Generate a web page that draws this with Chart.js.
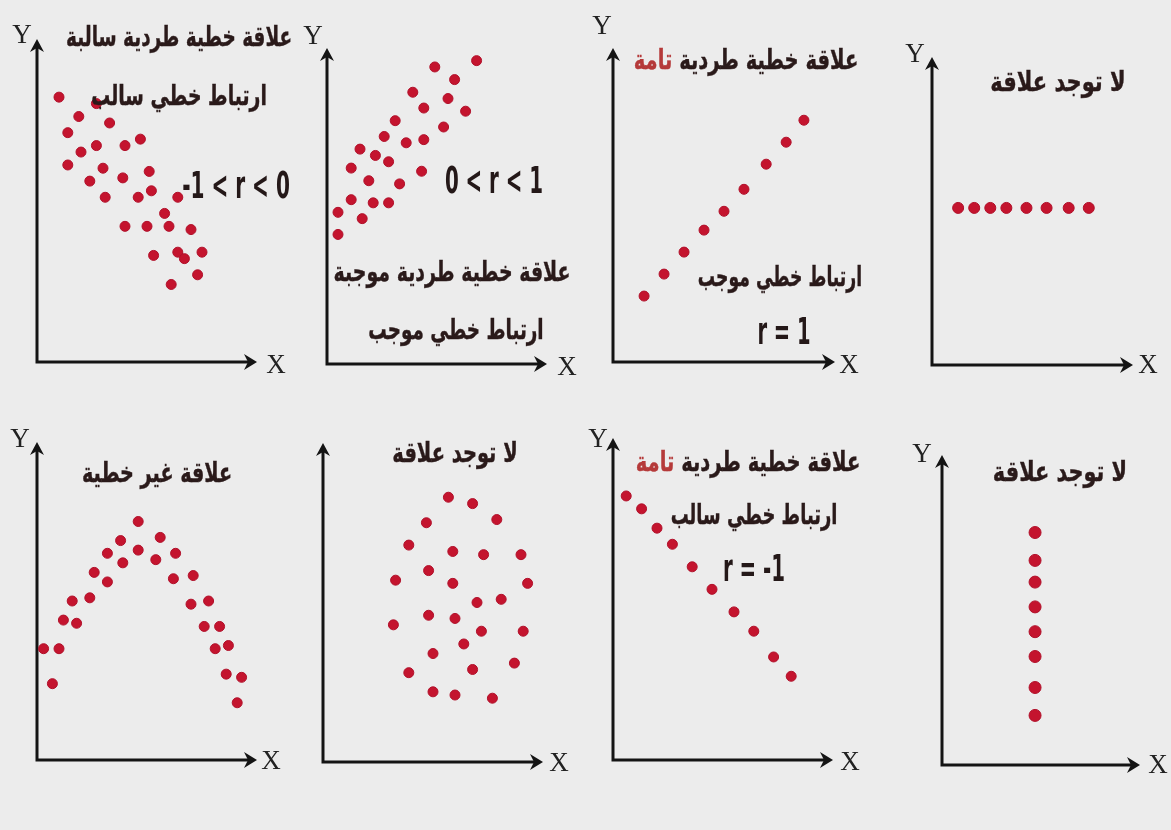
<!DOCTYPE html>
<html>
<head>
  <title>أنواع العلاقات والارتباط</title>
  <script src="https://cdn.jsdelivr.net/npm/chart.js"></script>
  <style>
    html, body {
      margin: 0;
      padding: 0;
      width: 1171px;
      height: 830px;
      overflow: hidden;
      background: #ececec;
    }
    canvas {
      position: absolute;
    }
    .lbl {
      position: absolute;
      white-space: nowrap;
      line-height: 1;
      transform-origin: center center;
    }
    .ar {
      font-family: 'DejaVu Sans Condensed', 'DejaVu Sans', sans-serif;
      font-weight: bold;
      font-size: 28px;
      color: #2a1a1a;
      direction: rtl;
      -webkit-text-stroke: 0.4px #2a1a1a;
    }
    .red { color: #b53a3a; -webkit-text-stroke: 0.4px #b53a3a; }
    .rr {
      font-family: 'Liberation Sans Narrow', 'DejaVu Sans Condensed', sans-serif;
      font-weight: bold;
      font-size: 38px;
      color: #241818;
      direction: ltr;
    }
    .xy {
      font-family: 'Liberation Serif', 'DejaVu Serif', serif;
      font-size: 27px;
      color: #222;
    }
  </style>
</head>
<body>

  <script>
    // قيم النقاط لكل شكل (0 - 100 على كل محور)
    var negX = [10, 27, 19, 33, 14, 47, 20, 27, 40, 14, 30, 51, 24, 39, 31, 46, 52, 64, 58, 40, 50, 60, 70, 53, 64, 67, 75, 73, 61];
    var negY = [82, 80, 76, 74, 71, 69, 65, 67, 67, 61, 60, 59, 56, 57, 51, 51, 53, 51, 46, 42, 42, 42, 41, 33, 34, 32, 34, 27, 24];

    var posX = [49, 68, 58, 39, 55, 44, 63, 31, 53, 26, 36, 44, 15, 22, 28, 11, 43, 19, 33, 11, 21, 28, 5, 16, 5];
    var posY = [94, 96, 90, 86, 84, 81, 80, 77, 75, 72, 70, 71, 68, 66, 64, 62, 61, 58, 57, 52, 51, 51, 48, 46, 41];

    var perfPosX = [14, 23, 32, 41, 50, 59, 69, 78, 86];
    var perfPosY = [21, 28, 35, 42, 48, 55, 63, 70, 77];

    var horizX = [13, 21, 29, 37, 47, 57, 68, 78];
    var horizY = [51, 51, 51, 51, 51, 51, 51, 51];

    var curveX = [46, 38, 56, 46, 32, 63, 39, 54, 26, 32, 62, 71, 16, 24, 70, 78, 12, 18, 76, 83, 3, 10, 81, 87, 7, 86, 93, 91];
    var curveY = [75, 69, 70, 66, 65, 65, 62, 63, 59, 56, 57, 58, 50, 51, 49, 50, 44, 43, 42, 42, 35, 35, 35, 36, 24, 27, 26, 18];

    var cloudX = [57, 68, 47, 79, 39, 59, 73, 90, 48, 33, 59, 93, 70, 81, 32, 48, 60, 72, 91, 64, 50, 87, 39, 68, 50, 60, 77];
    var cloudY = [83, 81, 75, 76, 68, 66, 65, 65, 60, 57, 56, 56, 50, 51, 43, 46, 45, 41, 41, 37, 34, 31, 28, 29, 22, 21, 20];

    var perfNegX = [6, 13, 20, 27, 36, 45, 55, 64, 73, 81];
    var perfNegY = [82, 78, 72, 67, 60, 53, 46, 40, 32, 26];

    var vertX = [47, 47, 47, 47, 47, 47, 47, 47];
    var vertY = [75, 66, 59, 51, 43, 35, 25, 16];

    // النصوص
    var titulos = {
      negTitle: 'علاقة خطية طردية سالبة',
      negSub: 'ارتباط خطي سالب',
      negR: '-1 < r < 0',
      posTitle: 'علاقة خطية طردية موجبة',
      posSub: 'ارتباط خطي موجب',
      posR: '0 < r < 1',
      perfTitle: 'علاقة خطية طردية',
      perfWord: 'تامة',
      perfPosSub: 'ارتباط خطي موجب',
      perfPosR: 'r = 1',
      none: 'لا توجد علاقة',
      curve: 'علاقة غير خطية',
      perfNegSub: 'ارتباط خطي سالب',
      perfNegR: 'r = -1'
    };

    // موضع كل شكل في الصفحة: الأصل (ox, oy)، رأس المحور Y (ty)، رأس المحور X (rx)
    var paneles = [
      { xs: negX, ys: negY, ox: 37, oy: 362, ty: 39, rx: 257, r: 5, yLbl: [22, 34], xLbl: [276, 364] },
      { xs: posX, ys: posY, ox: 327, oy: 364, ty: 48, rx: 547, r: 5, yLbl: [313, 35], xLbl: [567, 366] },
      { xs: perfPosX, ys: perfPosY, ox: 613, oy: 362, ty: 48, rx: 835, r: 5, yLbl: [602, 25], xLbl: [849, 364] },
      { xs: horizX, ys: horizY, ox: 932, oy: 365, ty: 57, rx: 1133, r: 5.5, yLbl: [915, 53], xLbl: [1148, 364] },
      { xs: curveX, ys: curveY, ox: 37, oy: 760, ty: 442, rx: 257, r: 5, yLbl: [20, 438], xLbl: [271, 760] },
      { xs: cloudX, ys: cloudY, ox: 323, oy: 762, ty: 443, rx: 543, r: 5, yLbl: null, xLbl: [559, 762] },
      { xs: perfNegX, ys: perfNegY, ox: 613, oy: 760, ty: 438, rx: 833, r: 5, yLbl: [598, 438], xLbl: [850, 761] },
      { xs: vertX, ys: vertY, ox: 942, oy: 765, ty: 455, rx: 1140, r: 6, yLbl: [922, 453], xLbl: [1158, 764] }
    ];

    // مكان كل نص: [المركز x، المركز y، العرض]
    var textos = [
      { html: titulos.negTitle, cls: 'ar', at: [179, 37, 226] },
      { html: titulos.negSub, cls: 'ar', at: [179, 96, 176] },
      { html: titulos.negR, cls: 'rr', at: [236, 185, 108] },
      { html: titulos.posR, cls: 'rr', at: [494, 180, 98] },
      { html: titulos.posTitle, cls: 'ar', at: [452, 272, 237] },
      { html: titulos.posSub, cls: 'ar', at: [456, 330, 175] },
      { html: titulos.perfTitle + ' <span class="red">' + titulos.perfWord + '</span>', cls: 'ar', at: [746, 60, 225] },
      { html: titulos.perfPosSub, cls: 'ar', at: [780, 277, 164] },
      { html: titulos.perfPosR, cls: 'rr', at: [784, 331, 53] },
      { html: titulos.none, cls: 'ar', at: [1058, 82, 135] },
      { html: titulos.curve, cls: 'ar', at: [157, 473, 150] },
      { html: titulos.none, cls: 'ar', at: [455, 453, 125] },
      { html: titulos.perfTitle + ' <span class="red">' + titulos.perfWord + '</span>', cls: 'ar', at: [748, 462, 225] },
      { html: titulos.perfNegSub, cls: 'ar', at: [754, 515, 167] },
      { html: titulos.perfNegR, cls: 'rr', at: [754, 568, 62] },
      { html: titulos.none, cls: 'ar', at: [1060, 472, 134] }
    ];

    var PAD = 18;

    // ejes con flecha, dibujados sobre el área del gráfico
    var flechas = {
      id: 'flechas',
      beforeDatasetsDraw: function (chart) {
        var c = chart.ctx, a = chart.chartArea;
        c.save();
        c.strokeStyle = '#141414';
        c.fillStyle = '#141414';
        c.lineWidth = 3;
        c.beginPath();
        c.moveTo(a.left, a.top + 4);
        c.lineTo(a.left, a.bottom);
        c.lineTo(a.right - 4, a.bottom);
        c.stroke();
        // punta derecha
        c.beginPath();
        c.moveTo(a.right, a.bottom);
        c.lineTo(a.right - 13, a.bottom - 8);
        c.lineTo(a.right - 9, a.bottom);
        c.lineTo(a.right - 13, a.bottom + 8);
        c.closePath();
        c.fill();
        // punta superior
        c.beginPath();
        c.moveTo(a.left, a.top);
        c.lineTo(a.left - 7, a.top + 13);
        c.lineTo(a.left, a.top + 9);
        c.lineTo(a.left + 7, a.top + 13);
        c.closePath();
        c.fill();
        c.restore();
      }
    };

    function ponerTexto(txt, cls, x, y, w) {
      var d = document.createElement('div');
      d.className = 'lbl ' + cls;
      d.innerHTML = txt;
      document.body.appendChild(d);
      d.style.left = x + 'px';
      d.style.top = y + 'px';
      var s = w ? w / d.offsetWidth : 1;
      d.style.transform = 'translate(-50%, -50%) scaleX(' + s + ')';
    }

    paneles.forEach(function (p) {
      var cv = document.createElement('canvas');
      var w = p.rx - p.ox + 2 * PAD, h = p.oy - p.ty + 2 * PAD;
      cv.width = w;
      cv.height = h;
      cv.style.left = (p.ox - PAD) + 'px';
      cv.style.top = (p.ty - PAD) + 'px';
      cv.style.width = w + 'px';
      cv.style.height = h + 'px';
      document.body.appendChild(cv);

      var puntos = p.xs.map(function (v, i) { return { x: v, y: p.ys[i] }; });

      new Chart(cv.getContext('2d'), {
        type: 'scatter',
        data: {
          datasets: [{
            data: puntos,
            pointRadius: p.r,
            pointBackgroundColor: '#c4142e',
            pointBorderColor: '#b0102a',
            pointBorderWidth: 1,
            clip: false
          }]
        },
        options: {
          responsive: false,
          animation: false,
          devicePixelRatio: 1,
          layout: { padding: PAD },
          plugins: { legend: { display: false }, tooltip: { enabled: false } },
          scales: {
            x: { type: 'linear', min: 0, max: 100, display: false },
            y: { type: 'linear', min: 0, max: 100, display: false }
          }
        },
        plugins: [flechas]
      });

      if (p.yLbl) ponerTexto('Y', 'xy', p.yLbl[0], p.yLbl[1]);
      ponerTexto('X', 'xy', p.xLbl[0], p.xLbl[1]);
    });

    textos.forEach(function (t) {
      ponerTexto(t.html, t.cls, t.at[0], t.at[1], t.at[2]);
    });
  </script>
</body>
</html>
